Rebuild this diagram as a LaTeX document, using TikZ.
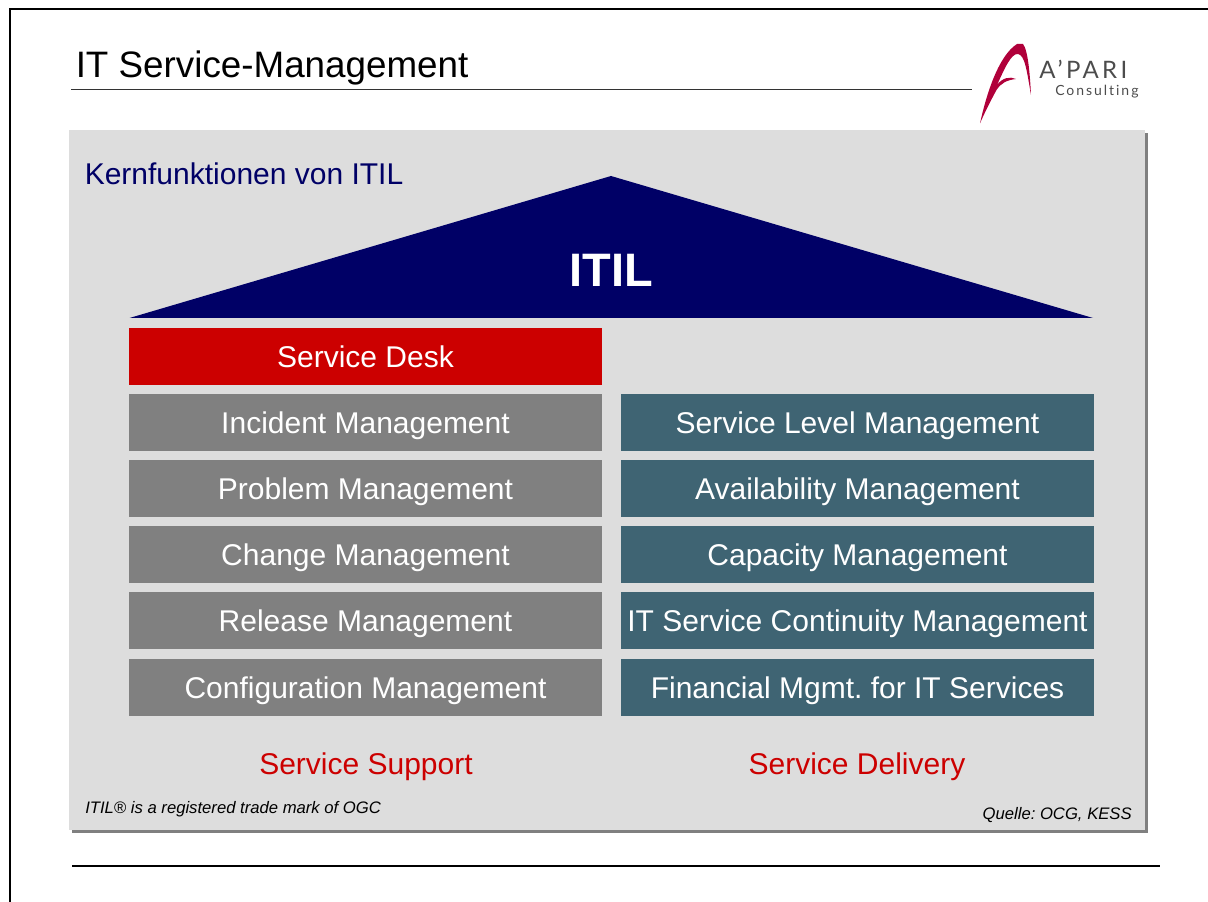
\documentclass[tikz,border=0pt]{standalone}
\usepackage{fontspec}
\setmainfont{Liberation Sans}
\newfontfamily\logofont[LetterSpace=14,Ligatures=NoCommon]{Lato}
\frenchspacing
\definecolor{panelgray}{HTML}{DDDDDD}
\definecolor{darkgray}{HTML}{808080}
\definecolor{navy}{HTML}{000066}
\definecolor{deskred}{HTML}{CC0000}
\definecolor{teal}{HTML}{3F6473}
\definecolor{swoosh}{HTML}{B0003A}
\def\px{.75pt}

\begin{document}
\begin{tikzpicture}[x=\px,y=-\px]
  \tikzset{box/.style={minimum width=473*\px,minimum height=57*\px,inner sep=0pt,text=white,text height=19.2pt,text depth=2pt,font=\fontsize{22.5}{22.5}\selectfont},
    support/.style={box,fill=darkgray},
    delivery/.style={box,fill=teal},
    column/.style={text=deskred,inner sep=0pt,font=\fontsize{22.5}{22.5}\selectfont},
    note/.style={inner sep=0pt,font=\fontsize{12.5}{12.5}\selectfont\itshape},
    node distance=66*\px}
  \useasboundingbox (0,0) rectangle (1208,902);

  % frame and rules
  \draw[line width=1.5pt] (10,902) -- (10,9) -- (1208,9);
  \draw[line width=.8pt,black!80] (71,89.5) -- (972,89.5);
  \draw[line width=1pt] (72,866) -- (1160,866);
  \node[anchor=base west,inner sep=0pt,font=\fontsize{27.6}{27.6}\selectfont] (title) at (75.5,78) {IT Service-Management};

  % logo
  \fill[swoosh] (980,123.3) .. controls (986,96) and (998,56) .. (1017,44) -- (1023,44)
    .. controls (1028,50) and (1030,75) .. (1031,95)
    .. controls (1027,72) and (1025,55) .. (1018,54)
    .. controls (1011,53) and (1004,70) .. (997,85)
    .. controls (1002,78) and (1010,76) .. (1016,79)
    .. controls (1007,80) and (1001,83) .. (996.5,90)
    .. controls (990,102) and (985,112) .. (980,123.3) -- cycle;
  \node[anchor=base west,inner sep=0pt,text=black!70,font=\logofont\fontsize{18}{18}\selectfont] (apari) at (1039,78.5) {A’PARI};
  \node[anchor=base west,inner sep=0pt,text=black!70,font=\logofont\fontsize{10.5}{10.5}\selectfont] (consulting) at (1055,95.5) {Consulting};

  % panel
  \fill[darkgray] (72,133) rectangle (1148,833);
  \fill[panelgray] (69,130) rectangle (1145,830);
  \node[anchor=base west,inner sep=0pt,text=navy,font=\fontsize{22.5}{22.5}\selectfont] (kern) at (84.5,185) {Kernfunktionen von ITIL};

  % roof
  \fill[navy] (129.5,318) -- (611,176) -- (1093,318) -- cycle;
  \node[text=white,inner sep=0pt,font=\fontsize{35.2}{35.2}\selectfont\bfseries] (itil) at (611,270) {ITIL};

  % service support
  \node[support,fill=deskred] (desk) at (365.5,356.5) {Service Desk};
  \node[support] (incident) [below of=desk] {Incident Management};
  \node[support] (problem) [below of=incident] {Problem Management};
  \node[support] (change) [below of=problem] {Change Management};
  \node[support] (release) [below of=change] {Release Management};
  \node[support] (config) [below of=release,yshift=-1*\px] {Configuration Management};

  % service delivery
  \node[delivery] (level) at (857.5,422.5) {Service Level Management};
  \node[delivery] (avail) [below of=level] {Availability Management};
  \node[delivery] (capacity) [below of=avail] {Capacity Management};
  \node[delivery] (continuity) [below of=capacity] {IT Service Continuity Management};
  \node[delivery] (financial) [below of=continuity,yshift=-1*\px] {Financial Mgmt. for IT Services};

  \node[column] (support) at (366,767) {Service Support};
  \node[column] (delivery) at (857,767) {Service Delivery};
  \node[note,anchor=base west] (mark) at (85,813) {ITIL® is a registered trade mark of OGC};
  \node[note,anchor=base east] (source) at (1132,819.5) {Quelle: OCG, KESS};
\end{tikzpicture}
\end{document}
